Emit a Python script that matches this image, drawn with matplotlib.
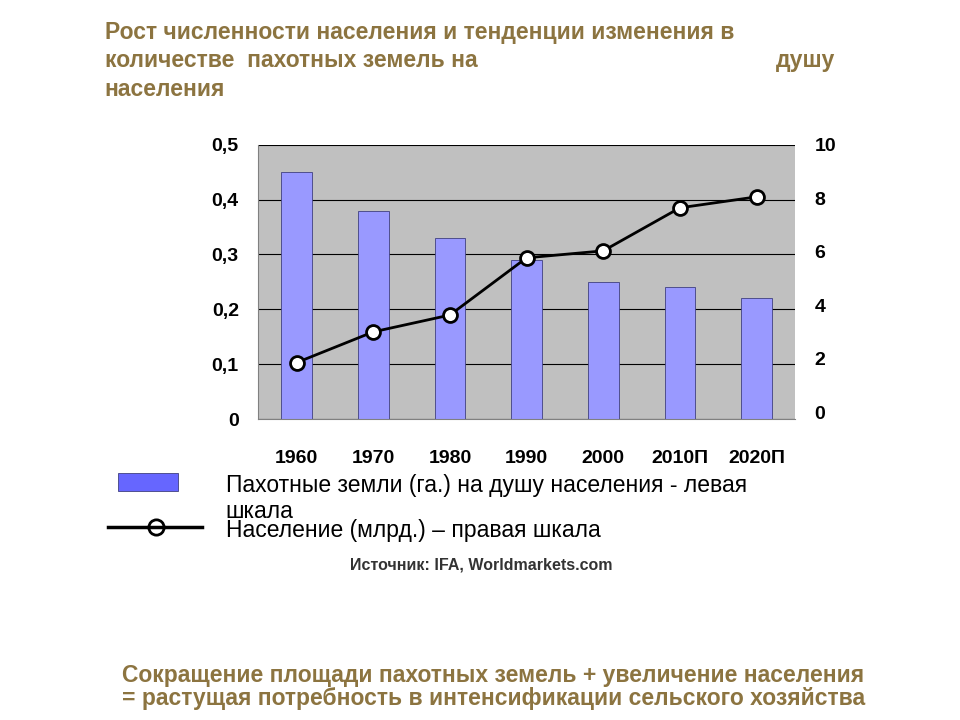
import matplotlib
matplotlib.use('Agg')
import matplotlib.pyplot as plt
from matplotlib.patches import Rectangle
from matplotlib.lines import Line2D

plt.rcParams['font.family'] = 'Liberation Sans'

years = ['1960', '1970', '1980', '1990', '2000', '2010П', '2020П']
land = [0.45, 0.38, 0.33, 0.29, 0.25, 0.24, 0.22]
population = [1.85, 3.0, 3.63, 5.77, 6.03, 7.64, 8.05]

title_col = '#8c7440'

fig = plt.figure(figsize=(9.6, 7.2), dpi=100)
ax = fig.add_axes([0.269, 0.418, 0.559, 0.381])
ax.set_facecolor('#c0c0c0')
x = range(len(years))
ax.bar(x, land, width=0.4, color='#9999ff', edgecolor='#404080', linewidth=0.6, zorder=2)
ax.set_ylim(0, 0.5)
ax.set_xlim(-0.5, len(years) - 0.5)
ax.set_yticks([0, 0.1, 0.2, 0.3, 0.4, 0.5])
ax.set_yticklabels(['0', '0,1', '0,2', '0,3', '0,4', '0,5'])
ax.yaxis.grid(True, color='black', linewidth=0.8, zorder=1)
ax.set_xticks(list(x))
ax.set_xticklabels(years)
ax.tick_params(axis='y', labelsize=14, length=0, pad=14)
ax.tick_params(axis='x', labelsize=14, length=0, pad=22)
for t in ax.get_xticklabels() + ax.get_yticklabels():
    t.set_fontweight('bold')
for s in ['top', 'right']:
    ax.spines[s].set_visible(False)
ax.spines['left'].set_color('gray')
ax.spines['bottom'].set_color('gray')

ax2 = ax.twinx()
ax2.plot(x, population, color='black', linewidth=2, marker='o', markersize=10,
         markerfacecolor='white', markeredgecolor='black', markeredgewidth=2, zorder=3)
ax2.set_ylim(-0.26, 10)
ax2.set_yticks([0, 2, 4, 6, 8, 10])
ax2.tick_params(axis='y', labelsize=14, length=0, pad=14)
for t in ax2.get_yticklabels():
    t.set_fontweight('bold')
for s in ax2.spines.values():
    s.set_visible(False)

fig.text(0.109, 0.955, 'Рост численности населения и тенденции изменения в', fontsize=16.5,
         fontweight='bold', color=title_col, va='center')
fig.text(0.109, 0.916, 'количестве  пахотных земель на', fontsize=16.5,
         fontweight='bold', color=title_col, va='center')
fig.text(0.808, 0.916, 'душу', fontsize=16.5, fontweight='bold', color=title_col, va='center')
fig.text(0.109, 0.876, 'населения', fontsize=16.5, fontweight='bold', color=title_col, va='center')

fig.patches.append(Rectangle((0.123, 0.318), 0.062, 0.025, transform=fig.transFigure,
                             facecolor='#6666ff', edgecolor='#404080', linewidth=0.6))
fig.text(0.235, 0.326, 'Пахотные земли (га.) на душу населения - левая', fontsize=16.5, va='center')
fig.text(0.235, 0.290, 'шкала', fontsize=16.5, va='center')
fig.lines.append(Line2D([0.113, 0.21], [0.268, 0.268], transform=fig.transFigure,
                       color='black', linewidth=2.5, zorder=3))
fig.lines.append(Line2D([0.162], [0.268], transform=fig.transFigure, color='black',
                       marker='o', markersize=11, markerfacecolor='white', markeredgewidth=2))
fig.text(0.235, 0.263, 'Население (млрд.) – правая шкала', fontsize=16.5, va='center')
fig.text(0.365, 0.215, 'Источник: IFA, Worldmarkets.com', fontsize=11.5, fontweight='bold',
         color='#333333', va='center')

fig.text(0.127, 0.062, 'Сокращение площади пахотных земель + увеличение населения',
         fontsize=16.5, fontweight='bold', color=title_col, va='center')
fig.text(0.127, 0.030, '= растущая потребность в интенсификации сельского хозяйства',
         fontsize=16.5, fontweight='bold', color=title_col, va='center')

fig.savefig('out.png', dpi=100)
